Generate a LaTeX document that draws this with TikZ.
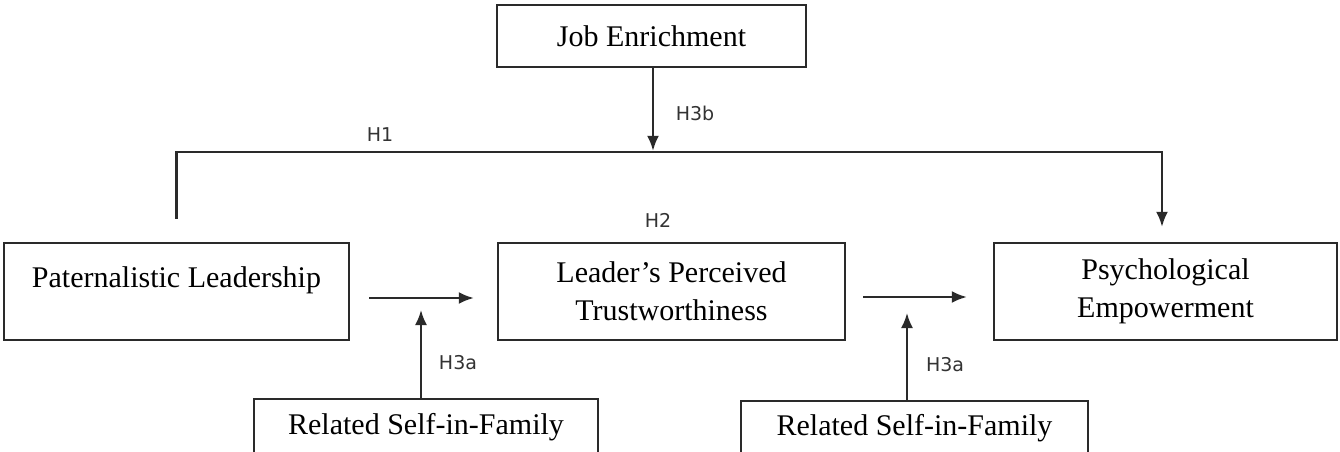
\documentclass[tikz,border=0pt]{standalone}
\usepackage{fontspec}
\setmainfont{Liberation Serif}
\newfontfamily\labfont{DejaVu Sans}
\usetikzlibrary{arrows.meta}
\definecolor{ink}{HTML}{2A2A2A}
\definecolor{labink}{HTML}{333333}
\tikzset{
  box/.style={draw=ink, line width=2.4pt, rectangle, inner sep=0pt, align=center,
    font=\fontsize{30}{38}\selectfont, text=black},
  hlab/.style={font=\labfont\fontsize{19}{22}\selectfont, text=labink, inner sep=0pt},
  conn/.style={draw=ink, line width=2.2pt},
  arr/.style={conn, -{Latex[length=15pt,width=12pt]}},
}
\begin{document}
\begin{tikzpicture}[x=1pt,y=-1pt]
\path[use as bounding box, clip] (0,0) rectangle (1340,452);
\fill[white] (0,0) rectangle (1340,452);
% boxes
\node[box, minimum width=309pt, minimum height=62pt] (je) at (651.5,36) {Job Enrichment};
\node[box, minimum width=345pt, minimum height=97pt] (pl) at (176.5,291.5)
  {\raisebox{0pt}[\height][\dimexpr\depth+22pt]{Paternalistic Leadership}};
\node[box, minimum width=347pt, minimum height=97pt] (lpt) at (671.5,291.5)
  {Leader’s Perceived\\Trustworthiness};
\node[box, minimum width=343pt, minimum height=97pt] (pe) at (1165.5,291.5)
  {Psychological\\Empowerment};
\node[box, minimum width=344pt, minimum height=62pt] (rsf1) at (426,430)
  {\raisebox{0pt}[\height][\dimexpr\depth+6pt]{Related Self-in-Family}};
\node[box, minimum width=347pt, minimum height=60pt] (rsf2) at (914.5,431)
  {\raisebox{0pt}[\height][\dimexpr\depth+6pt]{Related Self-in-Family}};
% H1 path
\coordinate (h1a) at ([yshift=23pt]pl.north);
\coordinate (h1b) at ([xshift=-3.5pt,yshift=15pt]pe.north);
\coordinate (h1c) at ([xshift=-3.5pt,yshift=90pt]pe.north);
\draw[arr] (h1a) |- (h1c) -- (h1b);
% H3b
\coordinate (h3bend) at ([xshift=1.5pt]je.south |- h1c);
\draw[arr] ([xshift=1.5pt]je.south) -- ([yshift=1pt]h3bend);
% main arrows
\coordinate (a1s) at ([xshift=19pt,yshift=-6.5pt]pl.east);
\coordinate (a1e) at ([xshift=-23pt,yshift=-6.5pt]lpt.west);
\draw[arr] (a1s) -- (a1e);
\coordinate (a2s) at ([xshift=17pt,yshift=-5.5pt]lpt.east);
\coordinate (a2e) at ([xshift=-26pt,yshift=-5.5pt]pe.west);
\draw[arr] (a2s) -- (a2e);
% moderator arrows
\coordinate (m1) at (421,310);
\draw[arr] (rsf1.north -| m1) -- (m1);
\coordinate (m2) at (907,313);
\draw[arr] (rsf2.north -| m2) -- (m2);
% labels
\node[hlab] (lh1) at (380,135) {H1};
\node[hlab] (lh3b) at (695,113) {H3b};
\node[hlab] (lh2) at (658,220) {H2};
\node[hlab] (lh3a1) at (458,363) {H3a};
\node[hlab] (lh3a2) at (945,365) {H3a};
\end{tikzpicture}
\end{document}
